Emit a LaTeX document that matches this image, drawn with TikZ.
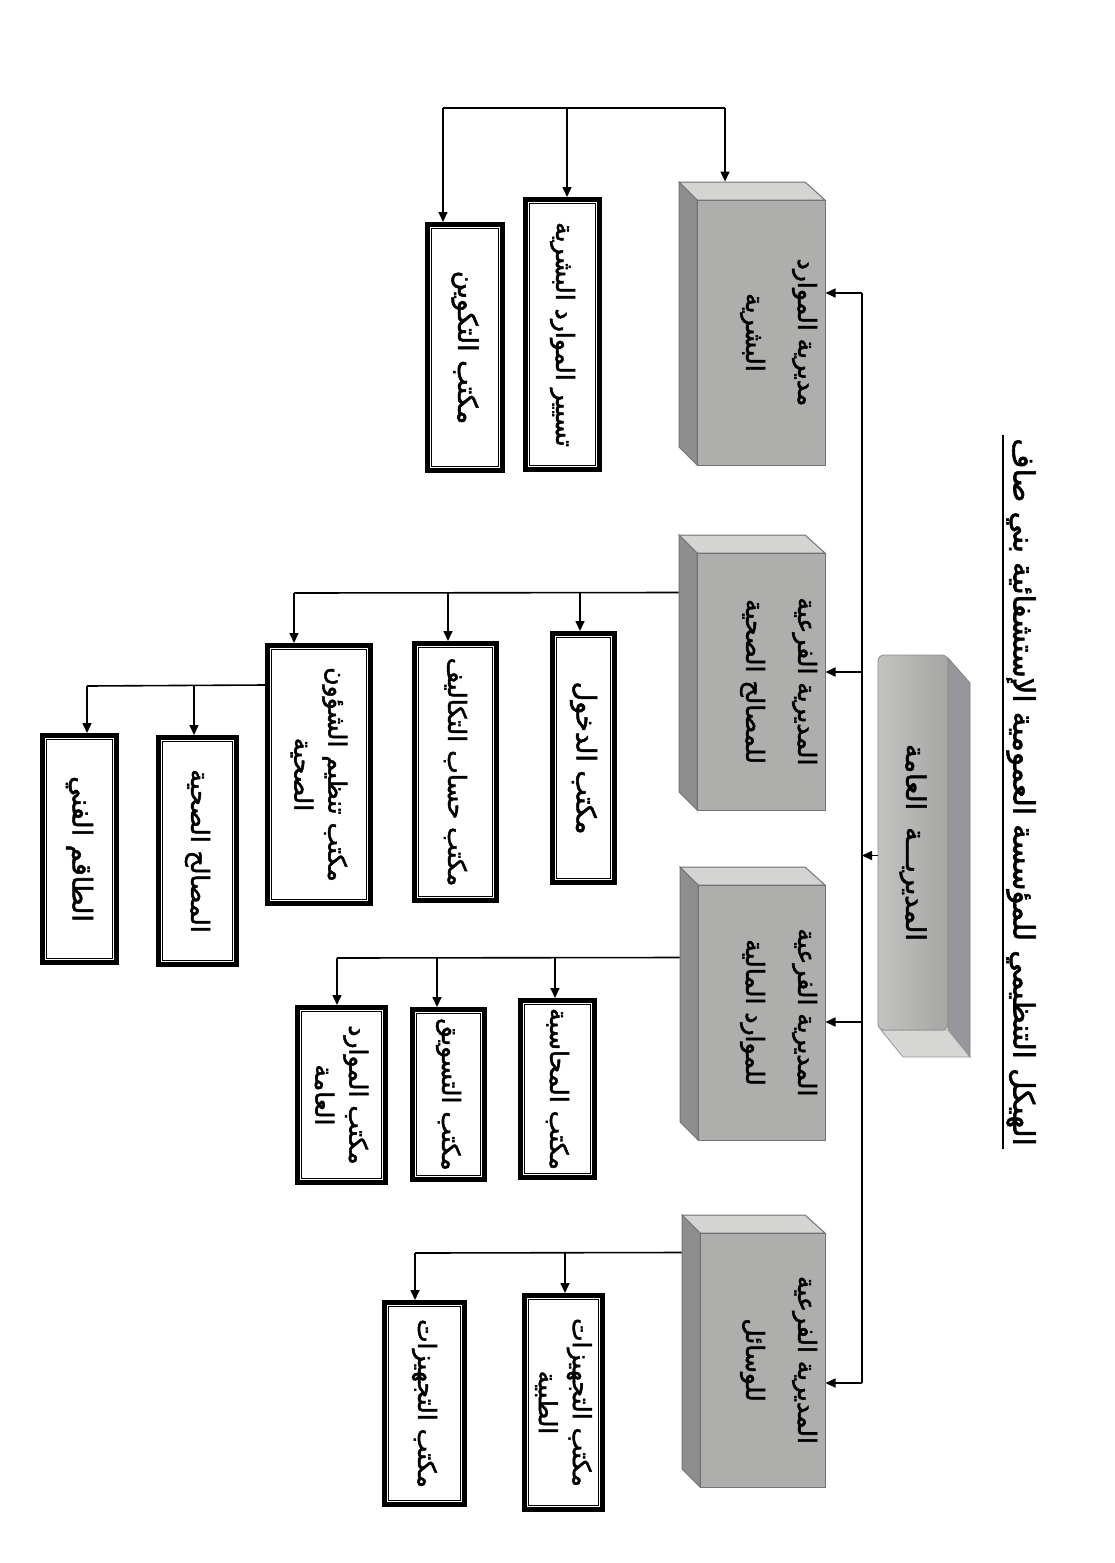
\documentclass[tikz,border=0pt]{standalone}
\usepackage{fontspec}
\usetikzlibrary{arrows.meta,calc}
\TeXXeTstate=1
\newfontfamily\arabicfont[Script=Arabic,FakeBold=2]{DejaVu Sans}
\newcommand\ar[1]{\beginR #1\endR}
\definecolor{facegray}{RGB}{174,174,172}
\definecolor{topgray}{RGB}{212,212,210}
\definecolor{sidegray}{RGB}{142,142,142}
\definecolor{genface}{RGB}{184,184,182}
\definecolor{genside}{RGB}{150,150,155}
\definecolor{genbot}{RGB}{214,214,212}
\tikzset{
  face/.style={rectangle, fill=facegray, draw=black!55, line width=0.5pt, rotate=-90, inner sep=0pt},
  office/.style={rectangle, draw=black, line width=2.6pt, fill=white, rotate=-90, inner sep=0pt,
    font=\arabicfont\fontsize{12.5}{17}\selectfont, align=center},
  lbl/.style={rotate=-90, inner sep=0pt, font=\arabicfont\fontsize{12.5}{26}\selectfont, align=center},
  conn/.style={line width=0.8pt},
  arr/.style={conn, -{Triangle[length=5pt,width=4.5pt]}},
}
% office box: name, x1, y1, x2, y2 (outer page pixels), text
\newcommand\office[6]{%
  \node[office, minimum width={(#5-#3)*0.5pt-2.6pt}, minimum height={(#4-#2)*0.5pt-2.6pt}]
    (#1) at ({(#2+#4)/2},{(#3+#5)/2}) {#6};
  \draw[line width=0.75pt] ([xshift=3.2pt,yshift=-3.2pt]#1.south west) rectangle ([xshift=-3.2pt,yshift=3.2pt]#1.north east);
}
% grey 3D box: name, x1, y1, x2, y2 (front face), text
\newcommand\gface[6]{%
  \fill[topgray, draw=black!55, line width=0.5pt] (#2,#3) -- (#4,#3) -- ({#4-20},{#3-18}) -- ({#2-18},{#3-18}) -- cycle;
  \fill[sidegray, draw=black!55, line width=0.5pt] (#2,#3) -- ({#2-18},{#3-18}) -- ({#2-18},{#5-18}) -- (#2,#5) -- cycle;
  \node[face, minimum width={(#5-#3)*0.5pt}, minimum height={(#4-#2)*0.5pt}]
    (#1) at ({(#2+#4)/2},{(#3+#5)/2}) {};
  \node[lbl, anchor=north] (#1-t) at ([xshift=-4pt]#1.north) {#6};
}
\begin{document}
\begin{tikzpicture}[x=0.5pt,y=-0.5pt]
\useasboundingbox (0,0) rectangle (1114,1563);
\fill[white] (0,0) rectangle (1114,1563);

% title
\node[rotate=-90, anchor=south, inner sep=1.5pt, font=\arabicfont\fontsize{14.6}{18}\selectfont] (title) at (1003,792)
  {\ar{الهيكل التنظيمي للمؤسسة العمومية الإستشفائية بني صاف}};
\draw[line width=1.1pt] (title.south west) -- (title.south east);

% general directorate
\fill[genside, draw=black!50, line width=0.4pt] (948,658) -- (970,683) -- (970,1057) -- (948,1030) -- cycle;
\fill[genbot, draw=black!40, line width=0.4pt] (881,1030) -- (948,1030) -- (970,1057) -- (903,1057) -- cycle;
\node[rectangle, rotate=-90, rounded corners=3pt, top color=genface!85!white, bottom color=genface!90!black,
  shading angle=90, draw=black!45, line width=0.4pt, inner sep=0pt,
  minimum width={(1030-655)*0.5pt}, minimum height={(948-878)*0.5pt}] (gen) at (913,842.5) {};
\node[lbl, font=\arabicfont\fontsize{13.5}{18}\selectfont] (gen-t) at (gen.center) {\ar{المديريـــة\ \ العامة}};

% directorates
\gface{hr}{697}{200}{825}{465}{\ar{مديرية الموارد}\\\ar{البشرية}}
\gface{health}{697}{553}{825}{810}{\ar{المديرية الفرعية}\\\ar{للمصالح الصحية}}
\gface{fin}{698}{885}{825}{1140}{\ar{المديرية الفرعية}\\\ar{للموارد المالية}}
\gface{means}{700}{1233}{825}{1487}{\ar{المديرية الفرعية}\\\ar{للوسائل}}

% offices
\office{tasyeer}{523}{197}{602}{472}{\ar{تسيير الموارد البشرية}}
\office{takwin}{425}{222}{505}{473}{\fontsize{13.5}{17}\selectfont\ar{مكتب التكوين}}
\office{dukhul}{550}{631}{617}{885}{\fontsize{13.5}{17}\selectfont\ar{مكتب الدخول}}
\office{hisab}{412}{641}{499}{903}{\ar{مكتب حساب التكاليف}}
\office{tanzim}{265}{643}{373}{906}{\ar{مكتب تنظيم الشؤون}\\\ar{الصحية}}
\office{masalih}{156}{735}{239}{967}{\ar{المصالح الصحية}}
\office{taqam}{40}{733}{119}{965}{\fontsize{13.5}{17}\selectfont\ar{الطاقم الفني}}
\office{muhasaba}{518}{998}{597}{1180}{\ar{مكتب المحاسبة}}
\office{taswiq}{410}{1007}{487}{1182}{\ar{مكتب التسويق}}
\office{mawarid}{295}{1005}{388}{1185}{\ar{مكتب الموارد}\\\ar{العامة}}
\office{tibbiya}{522}{1293}{605}{1512}{\ar{مكتب التجهيزات}\\\ar{الطبية}}
\office{tajhizat}{382}{1300}{467}{1507}{\ar{مكتب التجهيزات}}

% spine
\coordinate (spT) at (862,293);
\coordinate (spB) at (862,1383);
\coordinate (s2) at (862,672);
\coordinate (s3) at (862,1022);
\draw[conn] (spT) -- (spB);
\draw[arr] (spT) -- (spT -| hr.north);
\draw[arr] (s2) -- (s2 -| health.north);
\draw[arr] (s3) -- (s3 -| fin.north);
\draw[arr] (spB) -- (spB -| means.north);
\coordinate (g1) at ([yshift=-6.5pt]gen.south);
\draw[arr] (g1) -- (g1 -| spT);

% HR branch
\coordinate (hrback) at ($(hr.south west)+(-18,-18)$);
\coordinate (hb1) at (443,108);
\coordinate (hb2) at (567,108);
\coordinate (hb3) at (725,108);
\draw[conn] (hb1) -- (hb3);
\draw[arr] (hb1) -- (hb1 |- takwin.west);
\draw[arr] (hb2) -- (hb2 |- tasyeer.west);
\draw[arr] (hb3) -- (hb3 |- hrback);

% health branch
\coordinate (hl0) at ($(health.south west)+(-18,40)$);
\coordinate (hl1) at (580,593);
\coordinate (hl2) at (448,593);
\coordinate (hl3) at (294,593);
\draw[conn] (hl0) -- (hl3);
\draw[arr] (hl1) -- (hl1 |- dukhul.west);
\draw[arr] (hl2) -- (hl2 |- hisab.west);
\draw[arr] (hl3) -- (hl3 |- tanzim.west);
\coordinate (tl0) at ($(tanzim.south west)+(0,42)$);
\coordinate (tl1) at (194,686);
\coordinate (tl2) at (87,686);
\draw[conn] (tl0) -- (tl2);
\draw[arr] (tl1) -- (tl1 |- masalih.west);
\draw[arr] (tl2) -- (tl2 |- taqam.west);

% finance branch
\coordinate (fl0) at ($(fin.south west)+(-18,73)$);
\coordinate (fl1) at (555,958);
\coordinate (fl2) at (437,958);
\coordinate (fl3) at (337,958);
\draw[conn] (fl0) -- (fl3);
\draw[arr] (fl1) -- (fl1 |- muhasaba.west);
\draw[arr] (fl2) -- (fl2 |- taswiq.west);
\draw[arr] (fl3) -- (fl3 |- mawarid.west);

% means branch
\coordinate (ml0) at ($(means.south west)+(-18,20)$);
\coordinate (ml1) at (565,1253);
\coordinate (ml2) at (415,1253);
\draw[conn] (ml0) -- (ml2);
\draw[arr] (ml1) -- (ml1 |- tibbiya.west);
\draw[arr] (ml2) -- (ml2 |- tajhizat.west);
\end{tikzpicture}
\end{document}
